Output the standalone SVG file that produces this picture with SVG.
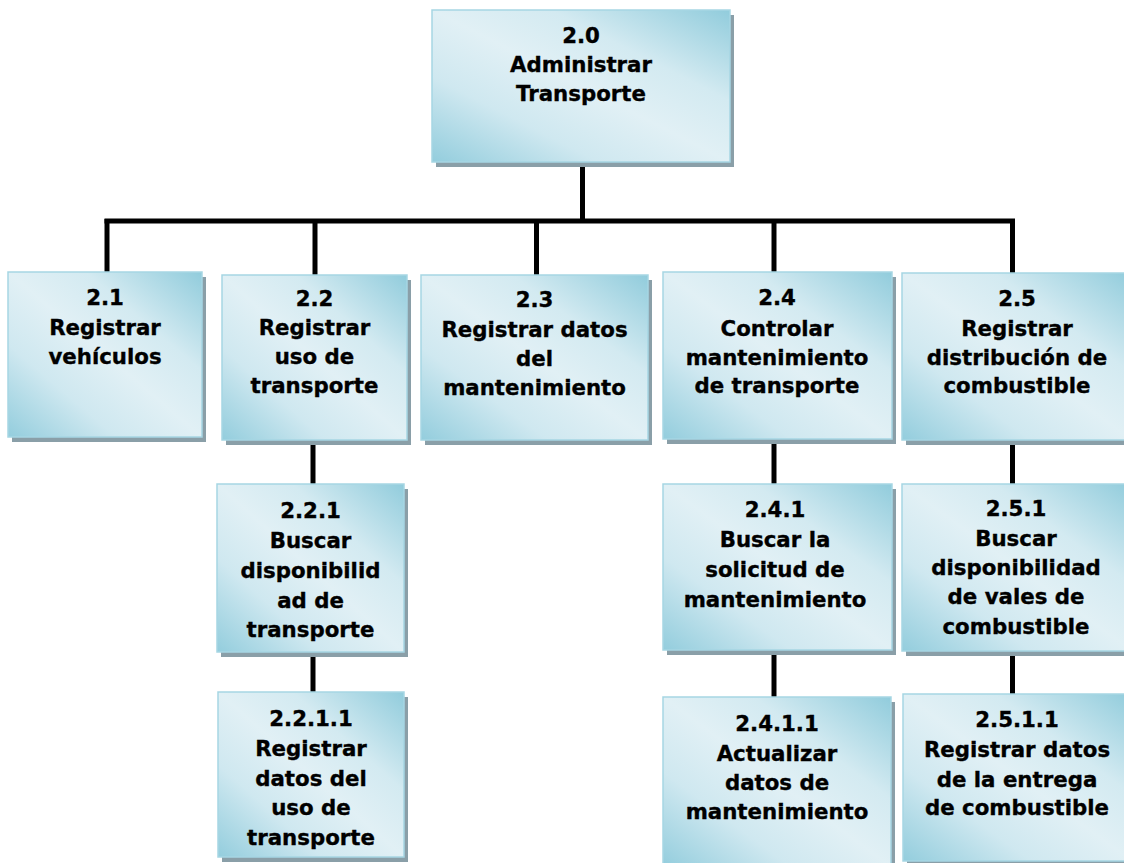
<svg xmlns="http://www.w3.org/2000/svg" width="1124" height="863" viewBox="0 0 1124 863">
  <defs>
    <linearGradient id="boxFill" x1="0" y1="1" x2="1" y2="0">
      <stop offset="0" stop-color="#93cddd"/>
      <stop offset="0.28" stop-color="#cfe8f0"/>
      <stop offset="0.5" stop-color="#e1f0f5"/>
      <stop offset="0.7" stop-color="#d3eaf1"/>
      <stop offset="1" stop-color="#91ccdc"/>
    </linearGradient>
  </defs>
  <style>
    .shadow { fill: #8a9fa8; }
    .box { fill: url(#boxFill); stroke: #a6d6e3; stroke-width: 1.5; }
    .label { font-family: "DejaVu Sans", Verdana, sans-serif; font-weight: bold; font-size: 21.3px; fill: #000; stroke: #000; stroke-width: 0.35; text-anchor: middle; }
    .wire { stroke: #000; stroke-width: 5; fill: none; stroke-linecap: butt; }
  </style>
  <rect width="1124" height="863" fill="#ffffff"/>

  <!-- connectors -->
  <g id="connectors">
    <line class="wire" x1="582.5" y1="166" x2="582.5" y2="221"/>
    <line class="wire" x1="104.5" y1="221" x2="1015" y2="221"/>
    <line class="wire" x1="107" y1="219" x2="107" y2="272"/>
    <line class="wire" x1="315" y1="219" x2="315" y2="275"/>
    <line class="wire" x1="536.5" y1="219" x2="536.5" y2="275"/>
    <line class="wire" x1="774" y1="219" x2="774" y2="272"/>
    <line class="wire" x1="1012.5" y1="219" x2="1012.5" y2="273"/>
    <line class="wire" x1="313" y1="444" x2="313" y2="484"/>
    <line class="wire" x1="313" y1="656" x2="313" y2="692"/>
    <line class="wire" x1="774" y1="443" x2="774" y2="484"/>
    <line class="wire" x1="774" y1="654" x2="774" y2="697"/>
    <line class="wire" x1="1012.5" y1="444" x2="1012.5" y2="484"/>
    <line class="wire" x1="1012.5" y1="655" x2="1012.5" y2="694"/>
  </g>

  <!-- 2.0 -->
  <g id="n2-0">
    <rect class="shadow" x="436" y="15" width="298" height="152"/>
    <rect class="box" x="432" y="10" width="298" height="152"/>
    <text class="label" x="581"><tspan x="581" y="43">2.0</tspan><tspan x="581" y="72">Administrar</tspan><tspan x="581" y="101">Transporte</tspan></text>
  </g>

  <!-- 2.1 -->
  <g id="n2-1">
    <rect class="shadow" x="12" y="277" width="194" height="165"/>
    <rect class="box" x="8" y="272" width="194" height="165"/>
    <text class="label" x="105"><tspan x="105" y="305">2.1</tspan><tspan x="105" y="335">Registrar</tspan><tspan x="105" y="364">vehículos</tspan></text>
  </g>

  <!-- 2.2 -->
  <g id="n2-2">
    <rect class="shadow" x="226" y="280" width="185" height="165"/>
    <rect class="box" x="222" y="275" width="185" height="165"/>
    <text class="label" x="314.5"><tspan x="314.5" y="306">2.2</tspan><tspan x="314.5" y="335">Registrar</tspan><tspan x="314.5" y="364">uso de</tspan><tspan x="314.5" y="393">transporte</tspan></text>
  </g>

  <!-- 2.3 -->
  <g id="n2-3">
    <rect class="shadow" x="425" y="280" width="227" height="165"/>
    <rect class="box" x="421" y="275" width="227" height="165"/>
    <text class="label" x="534.5"><tspan x="534.5" y="307">2.3</tspan><tspan x="534.5" y="337">Registrar datos</tspan><tspan x="534.5" y="366">del</tspan><tspan x="534.5" y="395">mantenimiento</tspan></text>
  </g>

  <!-- 2.4 -->
  <g id="n2-4">
    <rect class="shadow" x="667" y="277" width="229" height="167"/>
    <rect class="box" x="663" y="272" width="229" height="167"/>
    <text class="label" x="777"><tspan x="777" y="305">2.4</tspan><tspan x="777" y="336">Controlar</tspan><tspan x="777" y="365">mantenimiento</tspan><tspan x="777" y="393">de transporte</tspan></text>
  </g>

  <!-- 2.5 -->
  <g id="n2-5">
    <rect class="shadow" x="906" y="278" width="230" height="167"/>
    <rect class="box" x="902" y="273" width="230" height="167"/>
    <text class="label" x="1017"><tspan x="1017" y="306">2.5</tspan><tspan x="1017" y="336">Registrar</tspan><tspan x="1017" y="365">distribución de</tspan><tspan x="1017" y="393">combustible</tspan></text>
  </g>

  <!-- 2.2.1 -->
  <g id="n2-2-1">
    <rect class="shadow" x="221" y="489" width="187" height="168"/>
    <rect class="box" x="217" y="484" width="187" height="168"/>
    <text class="label" x="310.5"><tspan x="310.5" y="518">2.2.1</tspan><tspan x="310.5" y="548">Buscar</tspan><tspan x="310.5" y="578">disponibilid</tspan><tspan x="310.5" y="608">ad de</tspan><tspan x="310.5" y="637">transporte</tspan></text>
  </g>

  <!-- 2.4.1 -->
  <g id="n2-4-1">
    <rect class="shadow" x="667" y="489" width="229" height="166"/>
    <rect class="box" x="663" y="484" width="229" height="166"/>
    <text class="label" x="775"><tspan x="775" y="517">2.4.1</tspan><tspan x="775" y="547">Buscar la</tspan><tspan x="775" y="577">solicitud de</tspan><tspan x="775" y="607">mantenimiento</tspan></text>
  </g>

  <!-- 2.5.1 -->
  <g id="n2-5-1">
    <rect class="shadow" x="906" y="489" width="230" height="167"/>
    <rect class="box" x="902" y="484" width="230" height="167"/>
    <text class="label" x="1016"><tspan x="1016" y="516">2.5.1</tspan><tspan x="1016" y="546">Buscar</tspan><tspan x="1016" y="575">disponibilidad</tspan><tspan x="1016" y="604">de vales de</tspan><tspan x="1016" y="634">combustible</tspan></text>
  </g>

  <!-- 2.2.1.1 -->
  <g id="n2-2-1-1">
    <rect class="shadow" x="222" y="697" width="186" height="165"/>
    <rect class="box" x="218" y="692" width="186" height="165"/>
    <text class="label" x="311"><tspan x="311" y="726">2.2.1.1</tspan><tspan x="311" y="756">Registrar</tspan><tspan x="311" y="786">datos del</tspan><tspan x="311" y="815">uso de</tspan><tspan x="311" y="845">transporte</tspan></text>
  </g>

  <!-- 2.4.1.1 -->
  <g id="n2-4-1-1">
    <rect class="shadow" x="667" y="702" width="228" height="170"/>
    <rect class="box" x="663" y="697" width="228" height="170"/>
    <text class="label" x="777"><tspan x="777" y="731">2.4.1.1</tspan><tspan x="777" y="761">Actualizar</tspan><tspan x="777" y="790">datos de</tspan><tspan x="777" y="819">mantenimiento</tspan></text>
  </g>

  <!-- 2.5.1.1 -->
  <g id="n2-5-1-1">
    <rect class="shadow" x="907" y="699" width="229" height="167"/>
    <rect class="box" x="903" y="694" width="229" height="167"/>
    <text class="label" x="1017"><tspan x="1017" y="727">2.5.1.1</tspan><tspan x="1017" y="757">Registrar datos</tspan><tspan x="1017" y="787">de la entrega</tspan><tspan x="1017" y="815">de combustible</tspan></text>
  </g>
</svg>
